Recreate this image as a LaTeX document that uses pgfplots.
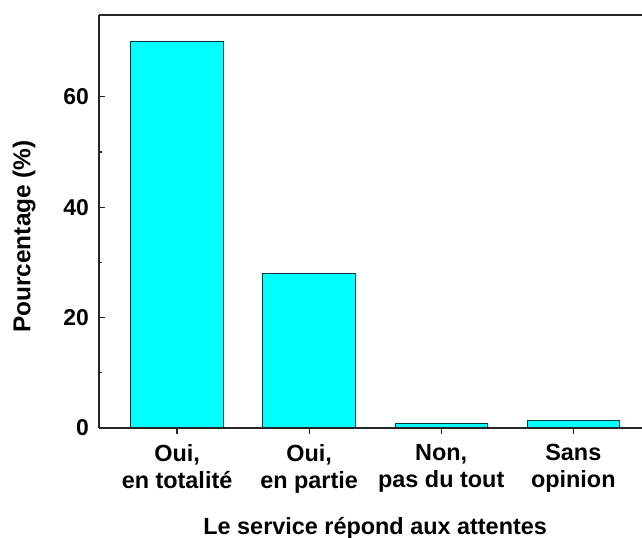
\documentclass[border=0pt]{standalone}
\usepackage{fontspec}
\setmainfont{Liberation Sans}
\usepackage{pgfplots}
\pgfplotsset{compat=1.18}
\definecolor{barfill}{RGB}{0,255,255}
\definecolor{baredge}{RGB}{0,60,60}
\begin{document}
\begin{tikzpicture}
\begin{axis}[
  at={(0,0)}, anchor=south west,
  scale only axis, width=543bp, height=413bp,
  xmin=0.409, xmax=4.52, ymin=0, ymax=74.8,
  axis x line*=box, axis y line*=left,
  axis on top,
  axis line style={line width=1.6bp, black!85},
  ybar, bar width=0.7,
  xtick={1,2,3,4},
  xticklabels={{Oui,\\en totalité},{Oui,\\en partie},{Non,\\pas du tout},{Sans\\opinion}},
  xtick pos=left, ytick pos=left,
  xtick align=outside, ytick align=inside,
  major tick length=6bp, minor tick length=3.5bp,
  tick style={line width=1.2bp, black!85},
  ytick={0,20,40,60}, minor y tick num=1,
  /pgf/number format/assume math mode=true,
  yticklabel style={font=\fontsize{23}{27}\selectfont\bfseries, inner xsep=0pt, xshift=-10bp},
  xticklabel style={font=\fontsize{23.5}{27}\selectfont\bfseries, align=center, anchor=north, inner sep=0pt, yshift=-10bp},
  xlabel={Le service répond aux attentes},
  ylabel={Pourcentage (\%)},
  xlabel style={font=\fontsize{23.5}{27}\selectfont\bfseries, at={(axis description cs:0.5086,-0.2567)}, anchor=base},
  ylabel style={font=\fontsize{24.5}{28}\selectfont\bfseries, at={(axis description cs:-0.1262,0.4637)}, anchor=base},
]
\addplot[fill=barfill, draw=baredge, line width=1bp] coordinates {(1,70) (2,28) (3,0.9) (4,1.3)};
\end{axis}
\pgfresetboundingbox
\path (-99bp,-110bp) rectangle (543bp,428bp);
\end{tikzpicture}
\end{document}
